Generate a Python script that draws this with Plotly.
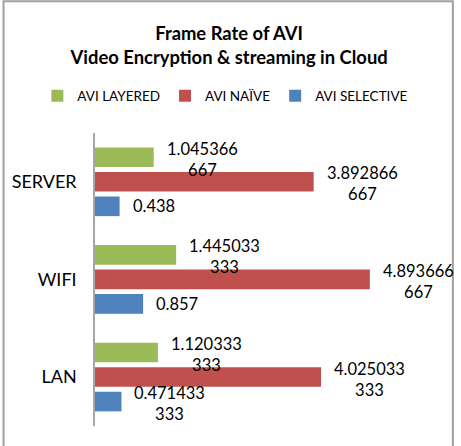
import plotly.graph_objects as go

categories = ["LAN", "WIFI", "SERVER"]
series_names = ["AVI LAYERED", "AVI NAÏVE", "AVI SELECTIVE"]
layered = [1.120333333, 1.445033333, 1.045366667]
naive = [4.025033333, 4.893666667, 3.892866667]
selective = [0.471433333, 0.857, 0.438]
label_text = {
    "AVI LAYERED": ["1.120333<br>333", "1.445033<br>333", "1.045366<br>667"],
    "AVI NAÏVE": ["4.025033<br>333", "4.893666<br>667", "3.892866<br>667"],
    "AVI SELECTIVE": ["0.471433<br>333", "0.857", "0.438"],
}
colors = {"AVI LAYERED": "#9BBB59", "AVI NAÏVE": "#C0504D", "AVI SELECTIVE": "#4F81BD"}
values = {"AVI LAYERED": layered, "AVI NAÏVE": naive, "AVI SELECTIVE": selective}

FONT = "Lato"
fig = go.Figure()
# plotly stacks horizontal groups bottom-up, so add in reverse
for name in reversed(series_names):
    fig.add_trace(go.Bar(
        y=categories, x=values[name], name=name, orientation="h",
        marker=dict(color=colors[name], line=dict(width=0)),
    ))

shifts = {"AVI LAYERED": 24.5, "AVI NAÏVE": 0, "AVI SELECTIVE": -24.5}
annotations = []
for name in series_names:
    for cat, v, t in zip(categories, values[name], label_text[name]):
        two = "<br>" in t
        annotations.append(dict(
            x=v, y=cat, xref="x", yref="y", text=t, showarrow=False,
            xanchor="left", yanchor="middle", align="center",
            xshift=11, yshift=shifts[name] - (2 if two else 0),
            font=dict(family=FONT, size=16.5, color="#000000"),
        ))

fig.update_layout(
    width=461, height=446,
    margin=dict(l=93, r=29, t=133, b=20, pad=0),
    paper_bgcolor="white", plot_bgcolor="white",
    barmode="group", bargap=0.246, bargroupgap=0.2,
    title=dict(
        text="<b>Frame Rate of AVI<br>Video Encryption &amp; streaming in Cloud</b>",
        x=0.497, xanchor="center", y=1 - 40 / 446, yanchor="middle",
        font=dict(family=FONT, size=18.4, color="#000000"),
    ),
    legend=dict(
        orientation="h", traceorder="reversed",
        x=-0.171, xanchor="left", y=1.1265, yanchor="middle",
        font=dict(family=FONT, size=13.5, color="#000000"),
        itemwidth=30, tracegroupgap=0,
    ),
    xaxis=dict(range=[0, 6], showgrid=False, showticklabels=False,
               zeroline=False, showline=False, ticks=""),
    yaxis=dict(showline=True, linecolor="#A6A6A6", linewidth=1.5,
               showgrid=False, ticks="", ticklabelstandoff=13,
               tickfont=dict(family=FONT, size=18, color="#000000")),
    annotations=annotations,
    shapes=[dict(type="rect", xref="paper", yref="paper",
                 x0=(1 - 93) / 339, x1=(453 - 93) / 339,
                 y0=-0.09, y1=(425.5 - 1.5) / 292.5,
                 line=dict(color="#A0A0A0", width=2), layer="below")],
    font=dict(family=FONT),
)

fig.write_html("out.html")
